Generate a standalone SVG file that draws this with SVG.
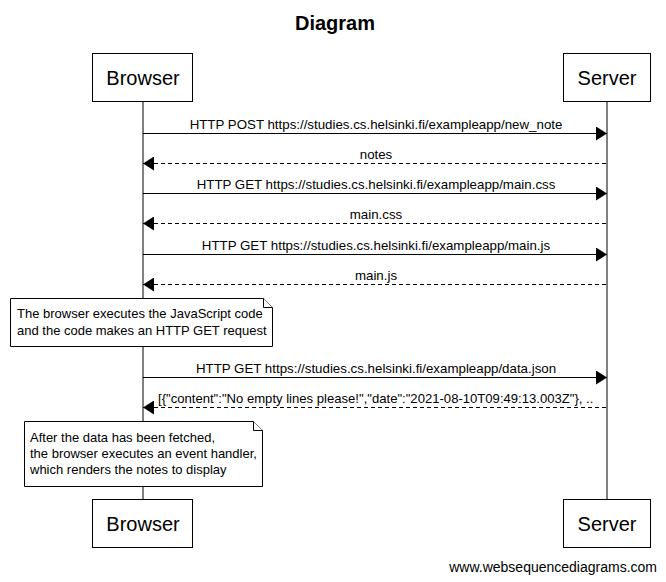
<svg xmlns="http://www.w3.org/2000/svg" width="666" height="582" viewBox="0 0 666 582">
<style>
text{font-family:"Liberation Sans",Arial,sans-serif;fill:#000}
.box{fill:#fff;stroke:#000;stroke-width:1}
.life{stroke:#000;stroke-width:1}
.msg{stroke:#000;stroke-width:1;fill:none}
.dash{stroke-dasharray:4,3}
.lbl{font-size:13.3px;text-anchor:middle}
.lbll{font-size:13.1px}
.actor{font-size:20px;text-anchor:middle}
.note{fill:#fff;stroke:#000;stroke-width:1}
.nt{font-size:13px}
</style>
<defs>
<marker id="ah" markerWidth="12" markerHeight="14" refX="11" refY="7" orient="auto" markerUnits="userSpaceOnUse">
<path d="M0,0 L11,7 L0,14 Z" fill="#000"/>
</marker>
</defs>
<rect width="666" height="582" fill="#fff"/>
<text x="335" y="30" font-size="20" font-weight="bold" text-anchor="middle">Diagram</text>
<g id="lifelines">
<line class="life" x1="143" y1="102" x2="143" y2="499"/>
<line class="life" x1="607" y1="102" x2="607" y2="499"/>
</g>
<g id="browser-top"><rect class="box" x="92.500" y="53.500" width="100" height="48"/><text class="actor" x="143" y="85">Browser</text></g>
<g id="server-top"><rect class="box" x="563.500" y="53.500" width="87" height="48"/><text class="actor" x="607" y="85">Server</text></g>
<g id="browser-bottom"><rect class="box" x="92.500" y="499.500" width="100" height="48"/><text class="actor" x="143" y="531">Browser</text></g>
<g id="server-bottom"><rect class="box" x="563.500" y="499.500" width="87" height="48"/><text class="actor" x="607" y="531">Server</text></g>
<g id="connectors">
<line class="msg" x1="143" y1="133.500" x2="607" y2="133.500" marker-end="url(#ah)"/>
<text class="lbl" x="376" y="129">HTTP POST https://studies.cs.helsinki.fi/exampleapp/new_note</text>
<line class="msg dash" x1="606" y1="163.500" x2="143" y2="163.500" marker-end="url(#ah)"/>
<text class="lbl" x="376" y="159">notes</text>
<line class="msg" x1="143" y1="193.500" x2="607" y2="193.500" marker-end="url(#ah)"/>
<text class="lbl" x="376" y="189">HTTP GET https://studies.cs.helsinki.fi/exampleapp/main.css</text>
<line class="msg dash" x1="606" y1="223.500" x2="143" y2="223.500" marker-end="url(#ah)"/>
<text class="lbl" x="376" y="219">main.css</text>
<line class="msg" x1="143" y1="254.500" x2="607" y2="254.500" marker-end="url(#ah)"/>
<text class="lbl" x="376" y="250">HTTP GET https://studies.cs.helsinki.fi/exampleapp/main.js</text>
<line class="msg dash" x1="606" y1="284.500" x2="143" y2="284.500" marker-end="url(#ah)"/>
<text class="lbl" x="376" y="280">main.js</text>
<line class="msg" x1="143" y1="377.500" x2="607" y2="377.500" marker-end="url(#ah)"/>
<text class="lbl" x="376" y="373">HTTP GET https://studies.cs.helsinki.fi/exampleapp/data.json</text>
<line class="msg dash" x1="606" y1="407.500" x2="143" y2="407.500" marker-end="url(#ah)"/>
<text class="lbll" x="158" y="403">[{"content":"No empty lines please!","date":"2021-08-10T09:49:13.003Z"}, ..</text>
</g>
<g id="note1">
<path class="note" d="M10.500,298.500 H263.500 L272.500,307.500 V346.500 H10.500 Z"/>
<path class="note" d="M263.500,298.500 V307.500 H272.500" fill="none"/>
<text class="nt" x="17" y="318">The browser executes the JavaScript code</text>
<text class="nt" x="17" y="335">and the code makes an HTTP GET request</text>
</g>
<g id="note2">
<path class="note" d="M24.500,421.500 H253.500 L262.500,430.500 V486.500 H24.500 Z"/>
<path class="note" d="M253.500,421.500 V430.500 H262.500" fill="none"/>
<text class="nt" x="30" y="442">After the data has been fetched,</text>
<text class="nt" x="30" y="458">the browser executes an event handler,</text>
<text class="nt" x="30" y="474">which renders the notes to display</text>
</g>
<text x="657" y="572" font-size="14" text-anchor="end">www.websequencediagrams.com</text>
</svg>
